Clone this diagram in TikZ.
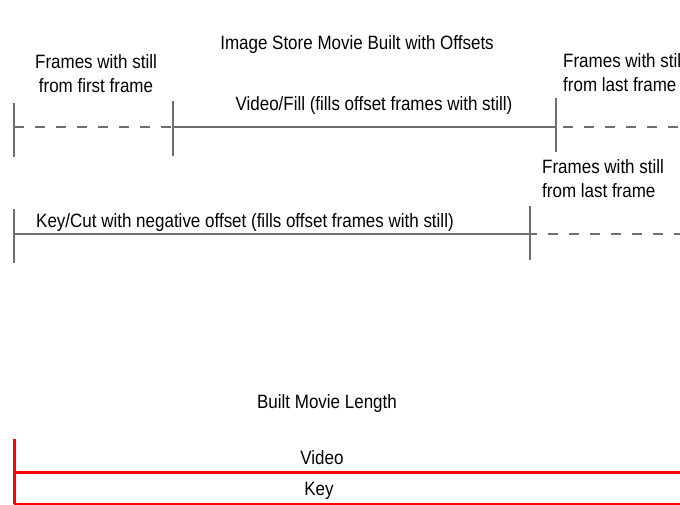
\documentclass[tikz,border=0pt]{standalone}
\usepackage{fontspec}
\setmainfont{Liberation Sans}[FakeStretch=0.88]
\usepackage{xcolor}
\usepackage{tikz}
\usetikzlibrary{
	positioning
}
\definecolor{trackgray}{HTML}{6E6E6E}
\definecolor{builtred}{HTML}{FF0000}

\begin{document}
\begin{tikzpicture}[x=1pt, y=-1pt,
		track/.style={draw=trackgray, line width=2pt},
		still/.style={track, dash pattern=on 10pt off 11pt},
		built/.style={draw=builtred, line width=3pt},
		lbl/.style={inner sep=0pt, font=\fontsize{19.3}{24}\selectfont}]
		\useasboundingbox (0,0) rectangle (680,505);
		\node[lbl, anchor=base] (title) at (357,50) {Image Store Movie Built with Offsets};
		% first track: video/fill
		\coordinate (v0) at (14,127);
		\coordinate (v1) at (173,127);
		\coordinate (v2) at (556,127);
		\coordinate (vend) at (680,127);
		\draw[track] (v0) ++(0,-24) -- ++(0,54);
		\draw[track] (v1) ++(0,-26) -- ++(0,55);
		\draw[track] (v2) ++(0,-29) -- ++(0,54);
		\draw[still] (v0) -- (v1);
		\draw[track] (v1) -- (v2);
		\draw[still] ([xshift=7pt]v2) -- (vend);
		\node[lbl, anchor=base, align=center] (vfirst) at (96,93) {Frames with still\\from first frame};
		\node[lbl, anchor=base] (vfill) at (374,111) {Video/Fill (fills offset frames with still)};
		\node[lbl, anchor=base west, align=left] (vlast) at (563,92) {Frames with still\\from last frame};
		% second track: key/cut
		\coordinate (k0) at (14,234);
		\coordinate (k1) at (530,234);
		\coordinate (kend) at (680,234);
		\draw[track] (k0) ++(0,-25) -- ++(0,54);
		\draw[track] (k1) ++(0,-28) -- ++(0,54);
		\draw[track] (k0) -- (k1);
		\draw[still, dash phase=3pt] (k1) -- (kend);
		\node[lbl, anchor=base west] (kcut) at (36,228) {Key/Cut with negative offset (fills offset frames with still)};
		\node[lbl, anchor=base west, align=left] (klast) at (542,198) {Frames with still\\from last frame};
		% built movie
		\node[lbl, anchor=base] (length) at (327,408) {Built Movie Length};
		\coordinate (b0) at (14,472);
		\coordinate (bend) at (680,472);
		\coordinate (c0) at (14,504);
		\coordinate (cend) at (680,504);
		\draw[built] (14,439) -- (c0);
		\draw[built] (b0) -- (bend);
		\draw[built, line width=2pt] (c0) -- (cend);
		\node[lbl, anchor=base] (video) at (322,464) {Video};
		\node[lbl, anchor=base] (key) at (319,495) {Key};
	\end{tikzpicture}
\end{document}
